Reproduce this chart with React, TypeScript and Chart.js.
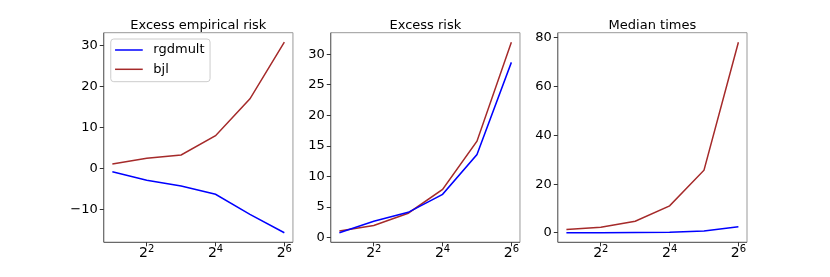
import React, { useEffect, useRef } from "react";
import { Chart, registerables } from "chart.js";
Chart.register(...registerables);

// ---- data ----
const sizes = [2, 4, 8, 16, 32, 64];
const xTickValues = [4, 16, 64];
const xTickBase = "2";
const xTickExponents = ["2", "4", "6"];
const seriesNames = ["rgdmult", "bjl"];
const seriesColors = ["#0000ff", "#a52a2a"];
const titles = ["Excess empirical risk", "Excess risk", "Median times"];

const empRiskRgdmult = [-0.8, -2.9, -4.3, -6.3, -11.2, -15.7];
const empRiskBjl = [1.1, 2.5, 3.3, 8.0, 17.0, 30.8];
const riskRgdmult = [0.8, 2.7, 4.15, 7.1, 13.6, 28.7];
const riskBjl = [1.1, 2.0, 4.0, 7.9, 15.8, 32.0];
const timeRgdmult = [0.05, 0.08, 0.15, 0.3, 0.8, 2.5];
const timeBjl = [1.4, 2.3, 4.8, 11.1, 25.7, 78.2];

const empRiskTicks = [-10, 0, 10, 20, 30];
const riskTicks = [0, 5, 10, 15, 20, 25, 30];
const timeTicks = [0, 20, 40, 60, 80];

// ---- layout ----
const FIG_W = 830;
const FIG_H = 277;
const AX_LEFT = 103.75;
const AX_RIGHT = 747;
const WSPACE = 0.2;
const AX_TOP = 32.7;
const AX_BOTTOM = 242.3;
const FONT = '"DejaVu Sans", sans-serif';
const YAXIS_W = 50;

const panels = [
  { title: titles[0], series: [empRiskRgdmult, empRiskBjl], ticks: empRiskTicks, legend: true },
  { title: titles[1], series: [riskRgdmult, riskBjl], ticks: riskTicks, legend: false },
  { title: titles[2], series: [timeRgdmult, timeBjl], ticks: timeTicks, legend: false },
];

function fmtY(v: number) {
  return v < 0 ? "\u2212" + Math.abs(v) : String(v);
}

function Panel({ index }: { index: number }) {
  const ref = useRef<HTMLCanvasElement | null>(null);
  useEffect(() => {
    const p = panels[index];
    const w = (AX_RIGHT - AX_LEFT) / (3 + 2 * WSPACE);
    const left = AX_LEFT + index * w * (1 + WSPACE);
    const right = left + w;
    const all = p.series.flat();
    const lo = Math.min(...all);
    const hi = Math.max(...all);
    const m = (hi - lo) * 0.05;
    const lx = Math.log2(sizes[0]);
    const hx = Math.log2(sizes[sizes.length - 1]);
    const mx = (hx - lx) * 0.05;

    const decor = {
      id: "decor",
      afterDatasetsDraw(chart: any) {
        const ctx = chart.ctx;
        const a = chart.chartArea;
        ctx.save();
        // spines
        ctx.lineWidth = 1;
        ctx.strokeStyle = "#999";
        ctx.beginPath();
        ctx.moveTo(a.left, a.top);
        ctx.lineTo(a.right, a.top);
        ctx.lineTo(a.right, a.bottom);
        ctx.stroke();
        ctx.strokeStyle = "#444";
        ctx.beginPath();
        ctx.moveTo(a.left, a.top);
        ctx.lineTo(a.left, a.bottom);
        ctx.lineTo(a.right, a.bottom);
        ctx.stroke();
        // title
        ctx.fillStyle = "#000";
        ctx.font = `13px ${FONT}`;
        ctx.textAlign = "center";
        ctx.textBaseline = "alphabetic";
        ctx.fillText(p.title, (a.left + a.right) / 2, a.top - 4);
        // x tick labels (power notation)
        const xs = chart.scales.x;
        xTickValues.forEach((v, i) => {
          const tx = xs.getPixelForValue(v);
          ctx.font = `14px ${FONT}`;
          const bw = ctx.measureText(xTickBase).width;
          ctx.font = `10px ${FONT}`;
          const ew = ctx.measureText(xTickExponents[i]).width;
          const x0 = tx - (bw + ew) / 2;
          ctx.textAlign = "left";
          ctx.textBaseline = "alphabetic";
          ctx.fillStyle = "#000";
          ctx.font = `14px ${FONT}`;
          ctx.fillText(xTickBase, x0, a.bottom + 15);
          ctx.font = `10px ${FONT}`;
          ctx.fillText(xTickExponents[i], x0 + bw, a.bottom + 10);
        });
        // legend
        if (p.legend) {
          const bx = a.left + 7;
          const by = a.top + 6.3;
          const bw = 99.3;
          const bh = 42.7;
          ctx.fillStyle = "rgba(255,255,255,0.8)";
          ctx.strokeStyle = "#cccccc";
          ctx.lineWidth = 1;
          ctx.beginPath();
          (ctx as any).roundRect(bx, by, bw, bh, 3);
          ctx.fill();
          ctx.stroke();
          seriesNames.forEach((name, i) => {
            const y = by + 11 + i * 19.3;
            ctx.strokeStyle = seriesColors[i];
            ctx.lineWidth = 1.5;
            ctx.beginPath();
            ctx.moveTo(bx + 4.3, y);
            ctx.lineTo(bx + 32, y);
            ctx.stroke();
            ctx.fillStyle = "#000";
            ctx.textAlign = "left";
            ctx.textBaseline = "middle";
            ctx.font = `13px ${FONT}`;
            ctx.fillText(name, bx + 42.6, y);
          });
        }
        ctx.restore();
      },
    };

    const chart = new Chart(ref.current as HTMLCanvasElement, {
      type: "line",
      data: {
        datasets: p.series.map((s, i) => ({
          label: seriesNames[i],
          data: sizes.map((x, j) => ({ x, y: s[j] })),
          borderColor: seriesColors[i],
          backgroundColor: seriesColors[i],
          borderWidth: 1.5,
          pointRadius: 0,
          tension: 0,
          fill: false,
        })),
      },
      options: {
        animation: false,
        responsive: false,
        maintainAspectRatio: false,
        layout: {
          padding: { left: left - YAXIS_W, right: FIG_W - right, top: AX_TOP, bottom: 0 },
        },
        plugins: { legend: { display: false }, title: { display: false }, tooltip: { enabled: false } },
        scales: {
          x: {
            type: "logarithmic",
            min: Math.pow(2, lx - mx),
            max: Math.pow(2, hx + mx),
            afterBuildTicks(scale: any) {
              scale.ticks = xTickValues.map((v) => ({ value: v }));
            },
            afterFit(scale: any) {
              scale.height = FIG_H - AX_BOTTOM;
            },
            grid: { drawOnChartArea: false, drawTicks: true, tickLength: 4, color: "#333" },
            border: { display: false },
            ticks: { display: false, autoSkip: false, maxRotation: 0 },
          },
          y: {
            type: "linear",
            min: lo - m,
            max: hi + m,
            afterBuildTicks(scale: any) {
              scale.ticks = p.ticks.map((v) => ({ value: v }));
            },
            afterFit(scale: any) {
              scale.width = YAXIS_W;
            },
            grid: { drawOnChartArea: false, drawTicks: true, tickLength: 4, color: "#333" },
            border: { display: false },
            ticks: {
              autoSkip: false,
              padding: 2,
              color: "#000",
              font: { family: FONT, size: 13 },
              callback: (v: any) => fmtY(Number(v)),
            },
          },
        },
      },
      plugins: [decor],
    } as any);
    return () => chart.destroy();
  }, [index]);
  return (
    <canvas
      ref={ref}
      width={FIG_W}
      height={FIG_H}
      style={{ position: "absolute", left: 0, top: 0, width: FIG_W, height: FIG_H }}
    />
  );
}

export default function App() {
  useEffect(() => {
    document.body.style.margin = "0";
    document.body.style.background = "#fff";
  }, []);
  return (
    <div style={{ position: "relative", width: FIG_W, height: FIG_H, background: "#fff" }}>
      {panels.map((_, i) => (
        <Panel key={i} index={i} />
      ))}
    </div>
  );
}
